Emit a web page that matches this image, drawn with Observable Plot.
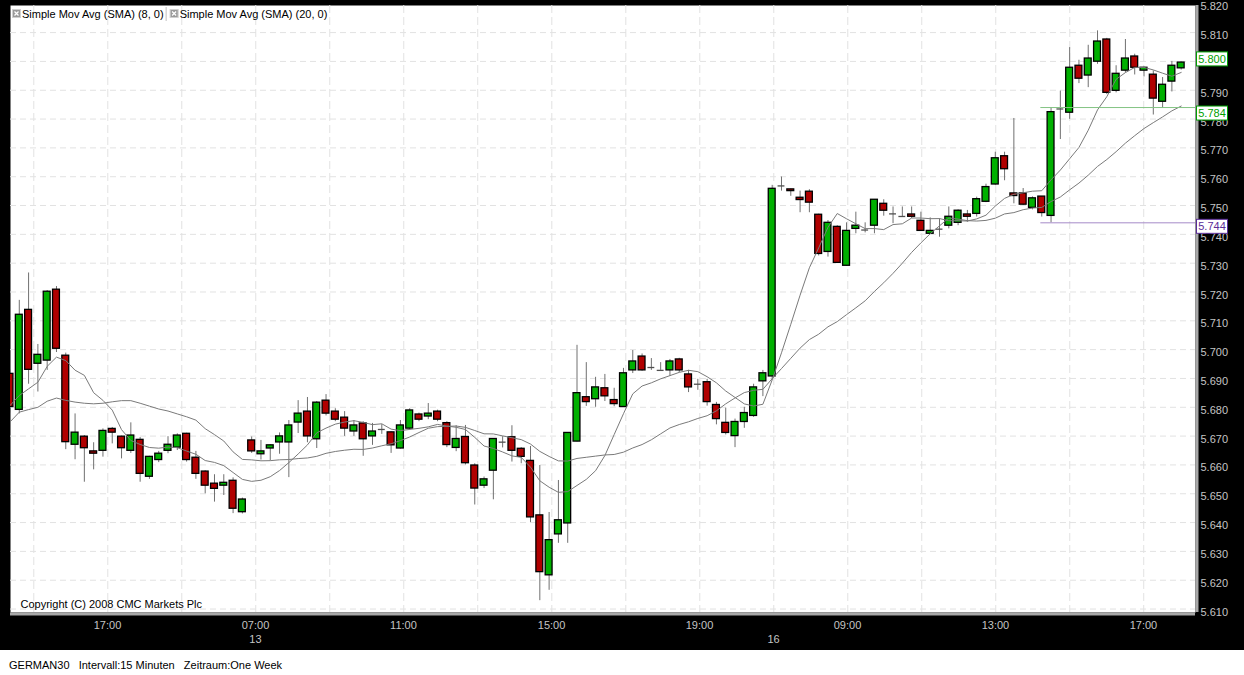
<!DOCTYPE html>
<html><head><meta charset="utf-8">
<script src="https://cdn.jsdelivr.net/npm/d3@7"></script>
<script src="https://cdn.jsdelivr.net/npm/@observablehq/plot@0.6"></script>
<style>
html,body{margin:0;padding:0;background:#fff;}
#wrap{width:1244px;height:675px;position:relative;overflow:hidden;background:#fff;font-family:"Liberation Sans",Arial,sans-serif;}
#chart svg{display:block;}
#footer{position:absolute;left:9px;top:657px;font-size:11px;line-height:16px;color:#000;white-space:pre;}
</style></head>
<body><div id="wrap"><div id="chart"></div><div id="footer"></div></div>
<script>
// ---- data (15-minute candles, GERMAN30) ----
const open  = [5.6916,5.6791,5.7138,5.6951,5.6962,5.7208,5.6979,5.6670,5.6698,5.6647,5.6649,5.6725,5.6698,5.6649,5.6687,5.6559,5.6617,5.6649,5.6660,5.6708,5.6625,5.6577,5.6535,5.6528,5.6545,5.6436,
5.6685,5.6637,5.6657,5.6678,5.6678,5.6747,5.6785,5.6689,5.6823,5.6785,5.6764,5.6716,5.6744,5.6699,5.6723,5.6713,5.6657,5.6726,5.6775,5.6768,5.6785,5.6745,5.6659,5.6697,5.6598,5.6528,5.6580,
5.6679,5.6696,5.6656,5.6614,5.6425,5.6217,5.6359,5.6397,5.6681,5.6835,5.6828,5.6866,5.6825,5.6801,5.6928,5.6976,5.6938,5.6928,5.6928,5.6966,5.6914,5.6880,5.6887,5.6808,5.6746,5.6700,5.6749,5.6770,5.6890,
5.6907,5.7568,5.7556,5.7527,5.7548,5.7468,5.7339,5.7426,5.7291,5.7419,5.7415,5.7430,5.7506,5.7471,5.7462,5.7469,5.7447,5.7402,5.7418,5.7430,5.7440,5.7469,5.7471,5.7513,5.7573,5.7671,5.7542,5.7542,5.7492,5.7531,
5.7464,5.7835,5.7822,5.7985,5.7951,5.7999,5.8076,5.7898,5.7968,5.8017,5.7968,5.7954,5.7860,5.7930,5.7976];
const high  = [5.6930,5.7171,5.7266,5.7018,5.7205,5.7219,5.6988,5.6777,5.6702,5.6677,5.6725,5.6730,5.6700,5.6746,5.6695,5.6630,5.6647,5.6698,5.6708,5.6710,5.6647,5.6580,5.6566,5.6566,5.6555,5.6485,
5.6697,5.6685,5.6670,5.6711,5.6754,5.6823,5.6834,5.6820,5.6844,5.6795,5.6785,5.6754,5.6750,5.6744,5.6740,5.6715,5.6754,5.6795,5.6780,5.6813,5.6790,5.6750,5.6736,5.6737,5.6604,5.6558,5.6690,
5.6698,5.6736,5.6660,5.6664,5.6598,5.6435,5.6546,5.6711,5.7015,5.6955,5.6904,5.6914,5.6866,5.6935,5.6997,5.6985,5.6969,5.6955,5.6966,5.6970,5.6928,5.6897,5.6897,5.6817,5.6797,5.6759,5.6800,5.6880,5.6928,
5.7570,5.7599,5.7557,5.7550,5.7555,5.7470,5.7448,5.7430,5.7440,5.7477,5.7440,5.7520,5.7520,5.7495,5.7495,5.7495,5.7477,5.7457,5.7454,5.7495,5.7485,5.7483,5.7529,5.7574,5.7685,5.7685,5.7802,5.7559,5.7530,5.7531,
5.7840,5.7897,5.8048,5.8004,5.8056,5.8106,5.8080,5.7985,5.8076,5.8025,5.7980,5.7967,5.7944,5.8000,5.7998];
const low   = [5.6780,5.6777,5.6880,5.6853,5.6928,5.6990,5.6653,5.6618,5.6540,5.6583,5.6627,5.6673,5.6621,5.6640,5.6540,5.6550,5.6608,5.6639,5.6650,5.6610,5.6550,5.6500,5.6471,5.6494,5.6431,5.6430,
5.6640,5.6617,5.6614,5.6637,5.6556,5.6709,5.6677,5.6657,5.6770,5.6750,5.6699,5.6699,5.6630,5.6668,5.6706,5.6640,5.6655,5.6720,5.6750,5.6757,5.6750,5.6660,5.6646,5.6600,5.6461,5.6518,5.6479,
5.6659,5.6610,5.6604,5.6400,5.6129,5.6165,5.6328,5.6328,5.6680,5.6803,5.6800,5.6820,5.6802,5.6800,5.6917,5.6925,5.6928,5.6928,5.6907,5.6920,5.6851,5.6859,5.6804,5.6739,5.6704,5.6660,5.6727,5.6765,5.6837,
5.6895,5.7550,5.7532,5.7475,5.7475,5.7325,5.7321,5.7300,5.7290,5.7402,5.7405,5.7402,5.7463,5.7437,5.7460,5.7455,5.7410,5.7400,5.7390,5.7419,5.7430,5.7442,5.7460,5.7510,5.7570,5.7586,5.7506,5.7500,5.7485,5.7460,
5.7440,5.7729,5.7799,5.7923,5.7909,5.7990,5.7885,5.7891,5.7960,5.7953,5.7946,5.7814,5.7837,5.7894,5.7970];
const close = [5.6801,5.7121,5.6930,5.6982,5.7201,5.7003,5.6679,5.6712,5.6658,5.6639,5.6718,5.6712,5.6658,5.6702,5.6569,5.6628,5.6639,5.6670,5.6702,5.6617,5.6569,5.6528,5.6517,5.6538,5.6448,5.6480,
5.6647,5.6647,5.6668,5.6699,5.6737,5.6778,5.6699,5.6816,5.6778,5.6757,5.6726,5.6737,5.6689,5.6716,5.6723,5.6668,5.6737,5.6789,5.6757,5.6778,5.6757,5.6669,5.6690,5.6606,5.6518,5.6550,5.6690,
5.6679,5.6649,5.6628,5.6418,5.6228,5.6339,5.6408,5.6711,5.6849,5.6818,5.6869,5.6838,5.6811,5.6918,5.6959,5.6928,5.6938,5.6928,5.6959,5.6928,5.6869,5.6880,5.6818,5.6759,5.6711,5.6749,5.6780,5.6869,5.6918,
5.7558,5.7568,5.7550,5.7519,5.7510,5.7332,5.7440,5.7301,5.7412,5.7430,5.7415,5.7520,5.7482,5.7471,5.7462,5.7461,5.7412,5.7412,5.7418,5.7461,5.7482,5.7461,5.7522,5.7564,5.7664,5.7626,5.7533,5.7503,5.7525,5.7474,
5.7824,5.7835,5.7978,5.7940,5.8010,5.8069,5.7891,5.7957,5.8010,5.7978,5.7978,5.7871,5.7919,5.7985,5.7996];
// moving-average values before a full window exists
const sma8Head  = [5.6806,5.6841,5.6864,5.6887,5.6942,5.6974,5.6962];
const sma20Head = [5.6749,5.6783,5.6792,5.6800,5.6821,5.6832,5.6824,5.6818,5.6814,5.6812,5.6814,5.6819,5.6823,5.6823,5.6814,5.6804,5.6794,5.6787,5.6777];
const priceTicks = [5.61,5.62,5.63,5.64,5.65,5.66,5.67,5.68,5.69,5.70,5.71,5.72,5.73,5.74,5.75,5.76,5.77,5.78,5.79,5.80,5.81,5.82];
const timeLabels = ["17:00","07:00","11:00","15:00","19:00","09:00","13:00","17:00"];
const timeLabelAt = [10.49,26.41,42.33,58.26,74.18,90.10,106.02,121.94];   // candle-index units
const dateLabels = ["13","16"];
const dateLabelAt = [26.41,82.14];
const gridAt = [2.56,10.52,18.48,26.44,34.40,42.36,50.32,58.29,66.25,74.21,82.17,90.13,98.09,106.05,114.01,121.97];
const lastPrice = 5.800, rangeHigh = 5.784, rangeLow = 5.744, rangeFrom = 110.9;
const legendItems = ["Simple Mov Avg (SMA) (8, 0)","Simple Mov Avg (SMA) (20, 0)"];
const copyright = "Copyright (C) 2008 CMC Markets Plc";
const footerText = "GERMAN30   Intervall:15 Minuten   Zeitraum:One Week";

// ---- build ----
const candles = close.map((c,i)=>({i, o:open[i], h:high[i], l:low[i], c}));
const bodies = candles.filter(d=>Math.abs(d.o-d.c)>=0.0003);
const dojis  = candles.filter(d=>Math.abs(d.o-d.c)<0.0003);
function sma(k, head){ return close.map((_,i)=>({i, v: i<k-1 ? head[i] : d3.mean(close.slice(i-k+1,i+1))})); }
const sma8 = sma(8, sma8Head), sma20 = sma(20, sma20Head);
const X_MIN=0.054, X_MAX=127.54, Y_MIN=5.6088, Y_MAX=5.8194;
const GREEN="#00b000", RED="#b00000", HW=0.37, LABEL="#c4c4c4";
// tick labels hidden under the last-price box are not drawn
const shownTicks = priceTicks.filter(t=>Math.abs(t-lastPrice)>0.001);

const chart = Plot.plot({
  width:1244, height:650, marginLeft:10, marginRight:49, marginTop:5, marginBottom:38,
  style:{background:"#000", fontFamily:"'Liberation Sans', Arial, sans-serif", fontSize:"11px", overflow:"visible"},
  x:{domain:[X_MIN,X_MAX], axis:null},
  y:{domain:[Y_MIN,Y_MAX], axis:null},
  marks:[
    Plot.frame({fill:"#fff", stroke:"none"}),
    Plot.ruleY(priceTicks,{stroke:"#e2e2e2", strokeDasharray:"6,4", clip:true}),
    Plot.ruleX(gridAt,{stroke:"#e2e2e2", strokeDasharray:"8,4", clip:true}),
    Plot.ruleX(candles,{x:"i", y1:"l", y2:"h", stroke:"#707070", strokeWidth:1, clip:true}),
    Plot.rect(bodies,{x1:d=>d.i-HW, x2:d=>d.i+HW, y1:"o", y2:"c", fill:d=>d.c>d.o?GREEN:RED, stroke:"#000", strokeWidth:1.3, clip:true}),
    Plot.ruleY(dojis,{y:"o", x1:d=>d.i-HW, x2:d=>d.i+HW, stroke:"#505050", strokeWidth:1.3, clip:true}),
    Plot.line(sma20,{x:"i", y:"v", stroke:"#7a7a7a", strokeWidth:1, clip:true}),
    Plot.line(sma8,{x:"i", y:"v", stroke:"#7a7a7a", strokeWidth:1, clip:true}),
    Plot.ruleY([rangeHigh],{x1:()=>rangeFrom, x2:()=>X_MAX, stroke:"#84c484", strokeWidth:1}),
    Plot.ruleY([rangeLow],{x1:()=>rangeFrom, x2:()=>X_MAX, stroke:"#a58bc8", strokeWidth:1}),
    Plot.ruleX([X_MAX],{stroke:"#a8a8a8", strokeWidth:3, dx:1.5}),
    Plot.ruleY([Y_MIN],{stroke:"#a8a8a8", strokeWidth:3, dy:1.5}),
    Plot.text(shownTicks,{x:()=>X_MAX, y:d=>d, text:d=>d.toFixed(3), dx:5, dy:3, textAnchor:"start", fill:LABEL, fontSize:11}),
    Plot.text(timeLabels,{x:(d,i)=>timeLabelAt[i], y:()=>Y_MIN, text:d=>d, dy:13, fill:LABEL, fontSize:11}),
    Plot.text(dateLabels,{x:(d,i)=>dateLabelAt[i], y:()=>Y_MIN, text:d=>d, dy:27, fill:LABEL, fontSize:11}),
    Plot.text([copyright],{frameAnchor:"bottom-left", dx:10, dy:-5, text:d=>d, fill:"#000", textAnchor:"start", fontSize:11})
  ]
});
document.getElementById("chart").appendChild(chart);
document.getElementById("footer").textContent = footerText;

// value boxes on the price axis (positioned through Plot's y scale)
const ys = chart.scale("y");
const svg = d3.select(chart);
[{v:lastPrice,c:"#00a000",off:-2},{v:rangeHigh,c:"#00a000",off:6},{v:rangeLow,c:"#5b2d9a",off:4}].forEach(b=>{
  const cy = ys.apply(b.v)+b.off;
  svg.append("rect").attr("x",1196.5).attr("y",cy-7).attr("width",31).attr("height",14).attr("fill","#fff").attr("stroke",b.c).attr("stroke-width",1);
  svg.append("text").attr("x",1212).attr("y",cy+4).attr("text-anchor","middle").attr("fill",b.c).attr("font-size",11).text(b.v.toFixed(3));
});
// legend
const lg = svg.append("g").attr("font-size",11).attr("fill","#000").attr("text-anchor","start");
let lx = 12;
legendItems.forEach((t,k)=>{
  lg.append("rect").attr("x",lx+0.5).attr("y",9.5).attr("width",8).attr("height",8).attr("fill","#9a9a9a").attr("stroke","#d0d0d0");
  lg.append("path").attr("d",`M${lx+2.5},${11.5}L${lx+6.5},${15.5}M${lx+6.5},${11.5}L${lx+2.5},${15.5}`).attr("stroke","#fff").attr("stroke-width",1.3);
  const tx = lg.append("text").attr("x",lx+10).attr("y",18).attr("text-anchor","start").text(t);
  const w = tx.node().getComputedTextLength();
  lx = lx + 10 + w + 4;
  if(k===0){ lg.append("line").attr("x1",lx-1.5).attr("x2",lx-1.5).attr("y1",7).attr("y2",21).attr("stroke","#c0c0c0"); lx += 2; }
});
</script>
</body></html>
